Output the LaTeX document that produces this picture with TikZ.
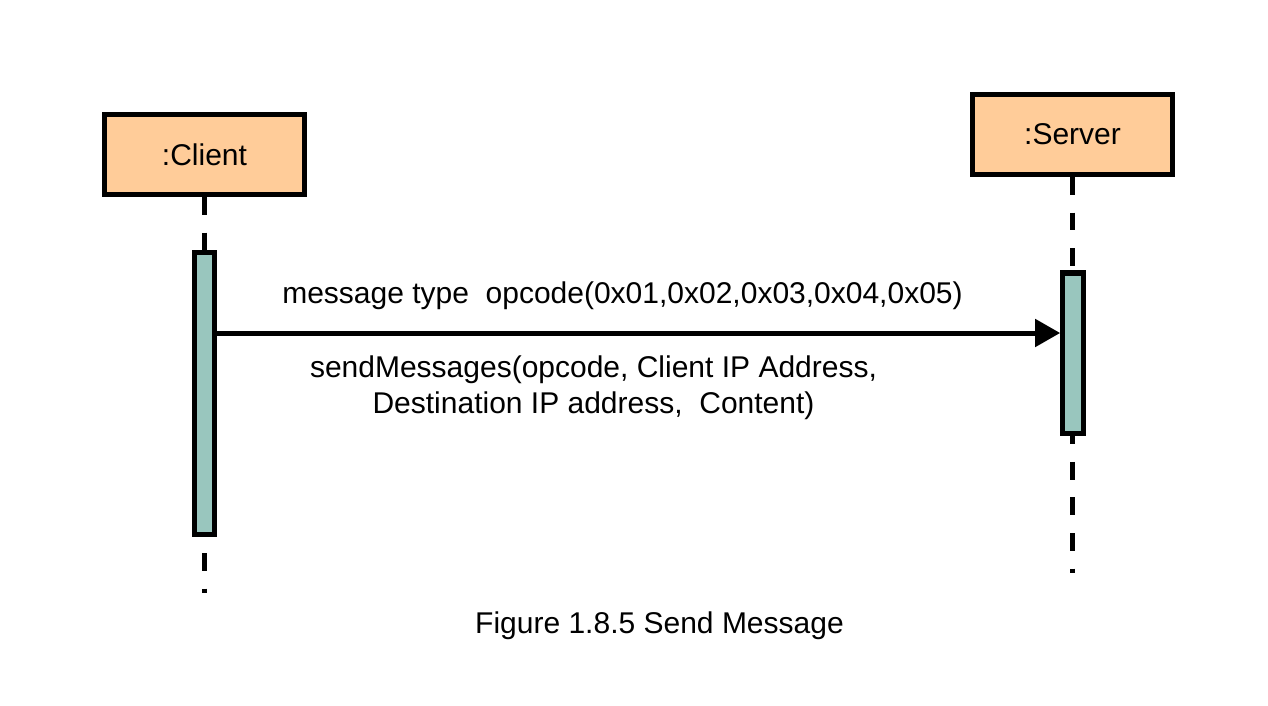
\documentclass[tikz,border=0pt]{standalone}
\usepackage{fontspec}
\setmainfont{Liberation Sans}
\usepackage{tikz}
\usetikzlibrary{arrows.meta}

\begin{document}
\begin{tikzpicture}[x=0.75pt,y=0.75pt,yscale=-1,xscale=1,
  objbox/.style={draw, line width=3.75pt, fill={rgb, 255:red, 255; green, 204; blue, 153}, minimum width=150pt, minimum height=60pt, inner sep=0pt, font=\fontsize{22.5}{27}\selectfont},
  actbar/.style={draw, line width=3.75pt, fill={rgb, 255:red, 153; green, 198; blue, 190}, minimum width=15.5pt, inner sep=0pt},
  lifeline/.style={line width=4.2pt, dash pattern=on 13.35pt off 13.35pt},
  msgline/.style={line width=3.75pt, -{Triangle[length=18.75pt, width=20.25pt]}},
  lbl/.style={inner sep=0pt, font=\fontsize{22.5}{27}\selectfont, align=center}]
\useasboundingbox (0,0) rectangle (1268,706);

%Shape: Rectangle [Client]
\node[objbox] (client) at (204.5,154.5) {:Client};
%Shape: Rectangle [Server]
\node[objbox] (server) at (1072.5,134.5) {:Server};

%Straight Lines [lifelines]
\coordinate (cend) at (204.5,593);
\coordinate (send) at (1072.5,573);
\draw[lifeline] (client.south) -- (cend);
\draw[lifeline] (server.south) -- (send);

%Shape: Rectangle [activation bars]
\node[actbar, minimum height=210.75pt] (cbar) at (204.5,393.5) {};
\node[actbar, minimum height=120pt] (sbar) at (1073,353) {};

%Straight Lines [message]
\coordinate (msgy) at (0,333);
\draw[msgline] (cbar.east |- msgy) -- (sbar.west |- msgy);

% Text Node
\node[lbl, anchor=base] (msgtype) at (622.5,303) {message type\ \ opcode(0x01,0x02,0x03,0x04,0x05)};
% Text Node
\node[lbl, anchor=base] (sendmsg) at (593.5,413) {sendMessages(opcode, Client IP Address,\\ Destination IP address,\ \ Content)};
% Text Node
\node[lbl, anchor=base] (caption) at (659.5,633) {Figure 1.8.5 Send Message};

\end{tikzpicture}
\end{document}
